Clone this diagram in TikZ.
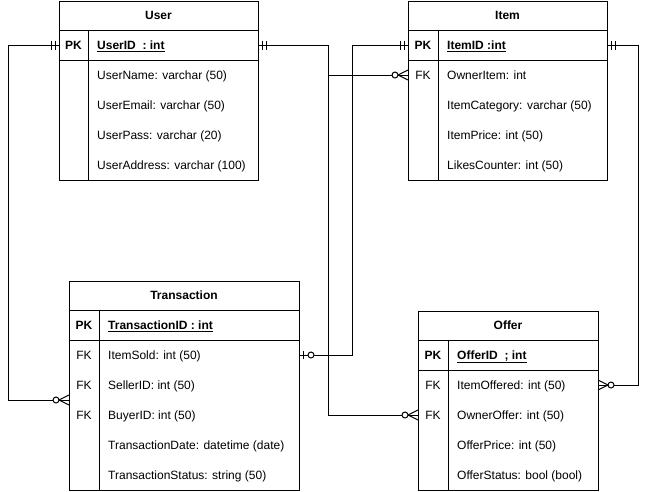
\documentclass[tikz,border=0pt]{standalone}
\usepackage{fontspec}
\setmainfont{Liberation Sans}
\begin{document}
\begin{tikzpicture}[x=1pt,y=-1pt,
  every node/.style={font=\fontsize{12}{14}\selectfont},
  part/.style n args={2}{draw, line width=1pt, fill=white, inner sep=0pt,
    outer sep=0pt, anchor=north west, minimum width=#1, minimum height=#2},
  rule/.style={line width=1pt},
  link/.style={line width=1pt},
  fld/.style={inner sep=0pt, anchor=west, text height=8.6pt, text depth=0pt},
  keyl/.style={inner sep=0pt, text height=8.6pt, text depth=0pt},
  keyb/.style={keyl, font=\fontsize{12}{14}\selectfont\bfseries},
  ttl/.style={keyb},
  pkf/.style={fld, font=\fontsize{12}{14}\selectfont\bfseries},
  pics/one/.style={code={\draw[link] (-4,-4.5)--(-4,4.5) (-8,-4.5)--(-8,4.5);}},
  pics/zeromany/.style={code={\draw[link] (0,-5)--(-10,0)--(0,5);
      \draw[link,fill=white] (-13,0) circle[radius=3];}},
  pics/zeroone/.style={code={\draw[link] (-4,-4)--(-4,4);
      \draw[link,fill=white] (-12,0) circle[radius=3];}}
]
\useasboundingbox (0,0) rectangle (648,491);

% ---------- User ----------
\node[part={199pt}{29pt}] (u-h) at (59,1) {};
\node[part={199pt}{30pt}] (u-pk) at (59,30) {};
\node[part={199pt}{120pt}] (u-body) at (59,60) {};
\draw[rule] (88,30) -- (88,180);
\node[ttl] (u-title) at (158.5,15.5) {User};
\node[keyb] (u-pkl) at (73.5,45) {PK};
\node[pkf] (u-id) at (97,45) {\underline{UserID\ \ : int}};
\node[fld] (u-name) at (97,75) {UserName: varchar (50)};
\node[fld] (u-email) at (97,105) {UserEmail: varchar (50)};
\node[fld] (u-pass) at (97,135) {UserPass: varchar (20)};
\node[fld] (u-addr) at (97,165) {UserAddress: varchar (100)};

% ---------- Item ----------
\node[part={199pt}{29pt}] (i-h) at (408,1) {};
\node[part={199pt}{30pt}] (i-pk) at (408,30) {};
\node[part={199pt}{120pt}] (i-body) at (408,60) {};
\draw[rule] (438,30) -- (438,180);
\node[ttl] (i-title) at (507.5,15.5) {Item};
\node[keyb] (i-pkl) at (423,45) {PK};
\node[keyl] (i-fkl) at (423,75) {FK};
\node[pkf] (i-id) at (447,45) {\underline{ItemID :int}};
\node[fld] (i-owner) at (447,75) {OwnerItem: int};
\node[fld] (i-cat) at (447,105) {ItemCategory: varchar (50)};
\node[fld] (i-price) at (447,135) {ItemPrice: int (50)};
\node[fld] (i-likes) at (447,165) {LikesCounter: int (50)};

% ---------- Transaction ----------
\node[part={230pt}{29pt}] (t-h) at (69,281) {};
\node[part={230pt}{30pt}] (t-pk) at (69,310) {};
\node[part={230pt}{150pt}] (t-body) at (69,340) {};
\draw[rule] (99,310) -- (99,490);
\node[ttl] (t-title) at (184,295.5) {Transaction};
\node[keyb] (t-pkl) at (84,325) {PK};
\node[keyl] (t-fk1) at (84,355) {FK};
\node[keyl] (t-fk2) at (84,385) {FK};
\node[keyl] (t-fk3) at (84,415) {FK};
\node[pkf] (t-id) at (108,325) {\underline{TransactionID : int}};
\node[fld] (t-item) at (108,355) {ItemSold: int (50)};
\node[fld] (t-seller) at (108,385) {SellerID: int (50)};
\node[fld] (t-buyer) at (108,415) {BuyerID: int (50)};
\node[fld] (t-date) at (108,445) {TransactionDate: datetime (date)};
\node[fld] (t-status) at (108,475) {TransactionStatus: string (50)};
\coordinate (t-user) at (69,400);

% ---------- Offer ----------
\node[part={180pt}{29pt}] (o-h) at (418,311) {};
\node[part={180pt}{30pt}] (o-pk) at (418,340) {};
\node[part={180pt}{120pt}] (o-body) at (418,370) {};
\draw[rule] (448,340) -- (448,490);
\node[ttl] (o-title) at (508,325.5) {Offer};
\node[keyb] (o-pkl) at (433,355) {PK};
\node[keyl] (o-fk1) at (433,385) {FK};
\node[keyl] (o-fk2) at (433,415) {FK};
\node[pkf] (o-id) at (457,355) {\underline{OfferID\ \ ; int}};
\node[fld] (o-item) at (457,385) {ItemOffered: int (50)};
\node[fld] (o-owner) at (457,415) {OwnerOffer: int (50)};
\node[fld] (o-price) at (457,445) {OfferPrice: int (50)};
\node[fld] (o-status) at (457,475) {OfferStatus: bool (bool)};

% ---------- relationships ----------
\draw[link] (u-pk.west) -- ++(-51,0) |- (t-user);
\draw[link] (u-pk.east) -- ++(70,0) |- (i-body.west |- i-owner);
\draw[link] (u-pk.east) -- ++(70,0) |- (o-body.west |- o-owner);
\draw[link] (i-pk.west) -- ++(-56,0) |- (t-body.east |- t-item);
\draw[link] (i-pk.east) -- ++(31,0) |- (o-body.east |- o-item);

\pic at (u-pk.west) {one};
\pic[rotate=180] at (u-pk.east) {one};
\pic at (i-pk.west) {one};
\pic[rotate=180] at (i-pk.east) {one};
\pic at (t-user) {zeromany};
\pic at (i-body.west |- i-owner) {zeromany};
\pic at (o-body.west |- o-owner) {zeromany};
\pic[rotate=180] at (t-body.east |- t-item) {zeroone};
\pic[rotate=180] at (o-body.east |- o-item) {zeromany};
\end{tikzpicture}
\end{document}
